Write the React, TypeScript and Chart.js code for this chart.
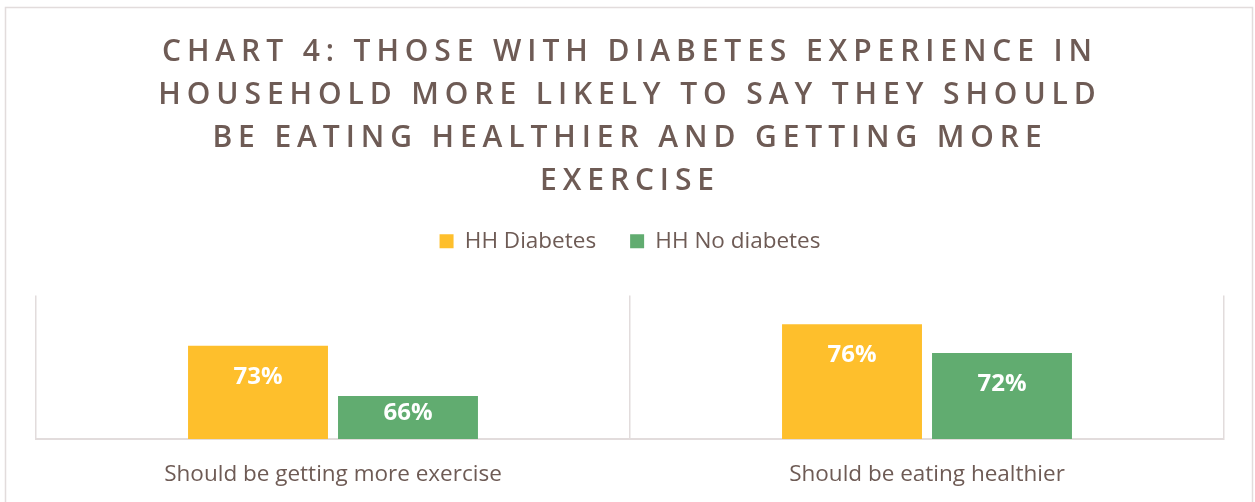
import React, { useEffect, useRef } from "react";
import { Chart, registerables } from "chart.js";

Chart.register(...registerables);

const categories = ["Should be getting more exercise", "Should be eating healthier"];
const seriesNames = ["HH Diabetes", "HH No diabetes"];
const hhDiabetes = [0.73, 0.76];
const hhNoDiabetes = [0.66, 0.72];
const titleLines = [
  "CHART 4: THOSE WITH DIABETES EXPERIENCE IN",
  "HOUSEHOLD MORE LIKELY TO SAY THEY SHOULD",
  "BE EATING HEALTHIER AND GETTING MORE",
  "EXERCISE",
];

const TEXT = "#6e5b55";
const GRID = "#e2dcdc";
const YELLOW = "#FEBF2C";
const GREEN = "#61AC70";
const FONT = "'Open Sans', 'Noto Sans', sans-serif";

const borderPlugin = {
  id: "outerBorder",
  beforeDraw(chart: any) {
    const ctx = chart.ctx;
    ctx.save();
    ctx.fillStyle = "#ffffff";
    ctx.fillRect(0, 0, chart.width, chart.height);
    ctx.strokeStyle = GRID;
    ctx.lineWidth = 1.5;
    ctx.strokeRect(5.5, 7.5, chart.width - 8, chart.height + 10);
    ctx.restore();
  },
};

const labelPlugin = {
  id: "barLabels",
  afterDatasetsDraw(chart: any) {
    const ctx = chart.ctx;
    const bottom = chart.chartArea.bottom;
    ctx.save();
    ctx.fillStyle = "#ffffff";
    ctx.font = `bold 24px ${FONT}`;
    ctx.textAlign = "center";
    ctx.textBaseline = "middle";
    chart.data.datasets.forEach((ds: any, i: number) => {
      const meta = chart.getDatasetMeta(i);
      meta.data.forEach((bar: any, j: number) => {
        const h = bottom - bar.y;
        const off = Math.min(31, h / 2 - 4);
        ctx.fillText(Math.round(ds.data[j] * 100) + "%", bar.x, bar.y + off);
      });
    });
    ctx.restore();
  },
};

export default function App() {
  const ref = useRef<HTMLCanvasElement | null>(null);
  useEffect(() => {
    if (!ref.current) return;
    const chart = new Chart(ref.current, {
      type: "bar",
      data: {
        labels: categories,
        datasets: [
          { label: seriesNames[0], data: hhDiabetes, backgroundColor: YELLOW, barPercentage: 0.933, categoryPercentage: 0.505 },
          { label: seriesNames[1], data: hhNoDiabetes, backgroundColor: GREEN, barPercentage: 0.933, categoryPercentage: 0.505 },
        ],
      },
      options: {
        animation: false,
        responsive: false,
        maintainAspectRatio: false,
        layout: { padding: { left: 36, right: 31, top: 0, bottom: 0 } },
        plugins: {
          title: {
            display: true,
            text: titleLines,
            color: TEXT,
            font: { family: FONT, size: 30, weight: "600", lineHeight: 1.4333 },
            padding: { top: 30.5, bottom: -6.5 },
          },
          legend: {
            display: true,
            position: "top",
            labels: {
              color: TEXT,
              font: { family: FONT, size: 22.5 },
              boxWidth: 14,
              boxHeight: 14,
              padding: 34,
            },
          },
          tooltip: { enabled: false },
        },
        scales: {
          x: {
            grid: { display: true, color: GRID, lineWidth: 1.5, offset: true, drawTicks: false },
            border: { display: true, color: GRID, width: 2 },
            ticks: { color: TEXT, font: { family: FONT, size: 22.5 }, padding: 22 },
            afterFit: (s: any) => {
              s.height = 63;
            },
          },
          xSpacer: {
            type: "category",
            position: "top",
            display: true,
            grid: { display: false, drawTicks: false },
            border: { display: false },
            ticks: { display: false },
            afterFit: (s: any) => {
              s.height = 33;
            },
          },
          y: {
            display: false,
            min: 0.6,
            max: 0.8,
          },
        },
      },
      plugins: [borderPlugin, labelPlugin],
    });
    const tb: any = (chart as any).titleBlock;
    if (tb) {
      const orig = tb.draw.bind(tb);
      tb.draw = (...args: any[]) => {
        const ctx: any = chart.ctx;
        ctx.save();
        ctx.letterSpacing = "5.9px";
        orig(...args);
        ctx.restore();
      };
      chart.draw();
    }
    return () => chart.destroy();
  }, []);
  return (
    <div style={{ position: "fixed", left: 0, top: 0, width: 1255, height: 502 }}>
      <canvas ref={ref} width={1255} height={502} style={{ width: 1255, height: 502, display: "block" }} />
    </div>
  );
}
